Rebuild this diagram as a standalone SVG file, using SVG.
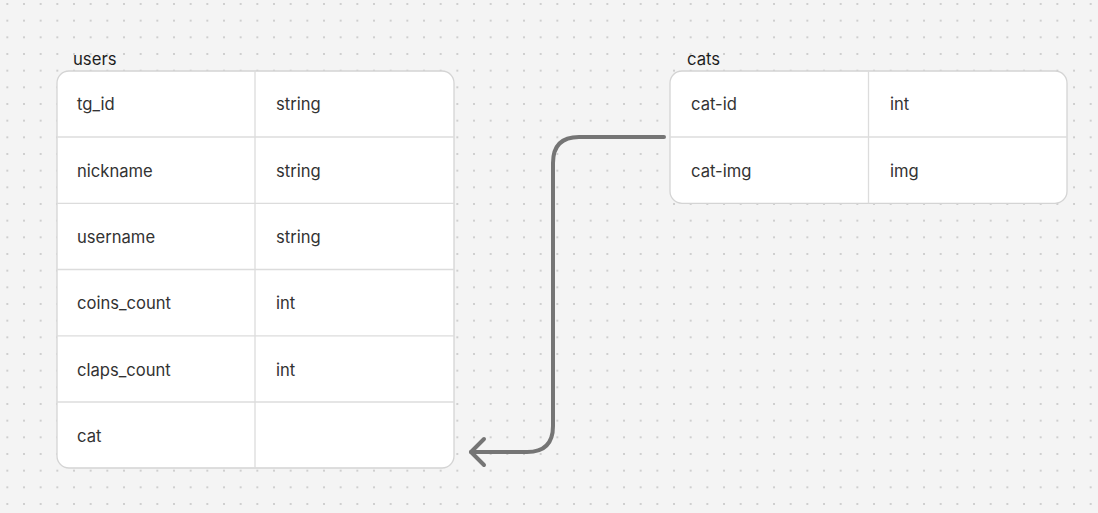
<svg xmlns="http://www.w3.org/2000/svg" width="1098" height="513" viewBox="0 0 1098 513">
<defs>
<pattern id="dots" x="6.33" y="3" width="16.667" height="16.667" patternUnits="userSpaceOnUse">
<circle cx="1" cy="1" r="0.9" fill="#bdbdbd"/>
</pattern>
<style>
.tbl{fill:#fff;stroke:#d4d4d4;stroke-width:1.3}
.ln{stroke:#dcdcdc;stroke-width:1.3}
.t{font-family:Inter,"Liberation Sans",sans-serif;font-size:16.6px;fill:#333}
.lbl{font-family:Inter,"Liberation Sans",sans-serif;font-size:16.7px;fill:#1e1e1e}
.conn{fill:none;stroke:#757575;stroke-width:4;stroke-linecap:round;stroke-linejoin:round}
</style>
</defs>
<rect width="1098" height="513" fill="#f4f4f4"/>
<rect width="1098" height="513" fill="url(#dots)"/>
<g id="users">
<text class="lbl" x="73" y="65">users</text>
<rect class="tbl" x="57" y="71" width="397" height="397" rx="12"/>
<line class="ln" x1="255" y1="71" x2="255" y2="468"/>
<line class="ln" x1="57" y1="137" x2="454" y2="137"/>
<line class="ln" x1="57" y1="203.3" x2="454" y2="203.3"/>
<line class="ln" x1="57" y1="269.5" x2="454" y2="269.5"/>
<line class="ln" x1="57" y1="335.8" x2="454" y2="335.8"/>
<line class="ln" x1="57" y1="402" x2="454" y2="402"/>
<text class="t" x="77" y="110">tg_id</text><text class="t" x="276" y="110">string</text>
<text class="t" x="77" y="176.5">nickname</text><text class="t" x="276" y="176.5">string</text>
<text class="t" x="77" y="243">username</text><text class="t" x="276" y="243">string</text>
<text class="t" x="77" y="309">coins_count</text><text class="t" x="276" y="309">int</text>
<text class="t" x="77" y="375.5">claps_count</text><text class="t" x="276" y="375.5">int</text>
<text class="t" x="77" y="442">cat</text>
</g>
<g id="cats">
<text class="lbl" x="687" y="65">cats</text>
<rect class="tbl" x="670" y="71" width="397" height="132.3" rx="12"/>
<line class="ln" x1="868.5" y1="71" x2="868.5" y2="203.3"/>
<line class="ln" x1="670" y1="137" x2="1067" y2="137"/>
<text class="t" x="691" y="110">cat-id</text><text class="t" x="890" y="110">int</text>
<text class="t" x="691" y="176.5">cat-img</text><text class="t" x="890" y="176.5">img</text>
</g>
<g id="connectors">
<path class="conn" d="M664 137 H579 Q553 137 553 163 V426 Q553 452 527 452 H471"/>
<path class="conn" d="M484 439 L471 452 L484 465"/>
</g>
</svg>
